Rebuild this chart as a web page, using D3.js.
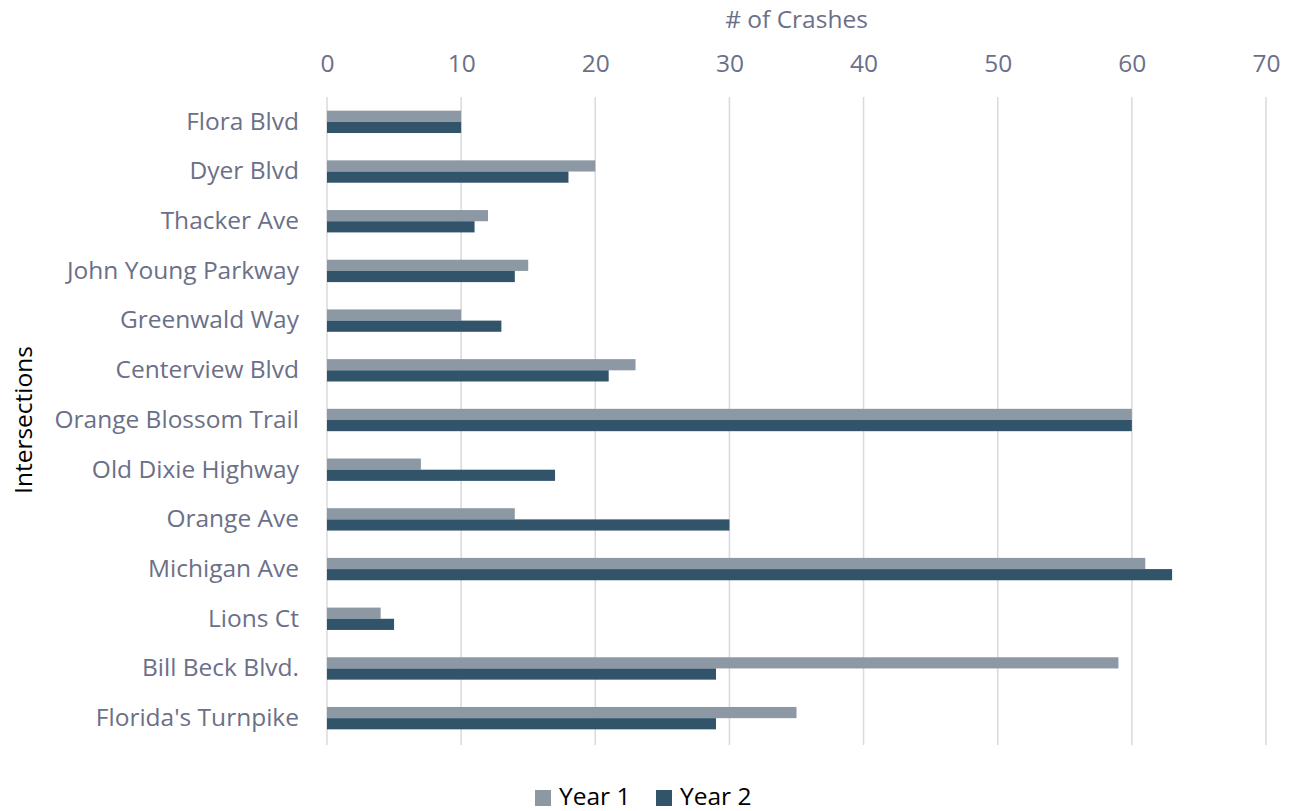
<!DOCTYPE html>
<html>
<head>
<meta charset="utf-8">
<script src="https://cdn.jsdelivr.net/npm/d3@7"></script>
<style>
  body { margin: 0; background: #fff; }
  text { font-family: "Open Sans", Lato, sans-serif; }
</style>
</head>
<body>
<div class="container"></div>
<script>
const intersections = [
  "Flora Blvd", "Dyer Blvd", "Thacker Ave", "John Young Parkway", "Greenwald Way",
  "Centerview Blvd", "Orange Blossom Trail", "Old Dixie Highway", "Orange Ave",
  "Michigan Ave", "Lions Ct", "Bill Beck Blvd.", "Florida's Turnpike"
];
const year1 = [10, 20, 12, 15, 10, 23, 60, 7, 14, 61, 4, 59, 35];
const year2 = [10, 18, 11, 14, 13, 21, 60, 17, 30, 63, 5, 29, 29];
const seriesNames = ["Year 1", "Year 2"];
const xTicks = [0, 10, 20, 30, 40, 50, 60, 70];

const w = 1292;
const h = 811;
const plotLeft = 327, plotRight = 1266, plotTop = 97, plotBottom = 743;
const colors = ["#8c99a4", "#32546b"];
const labelColor = "#6b7088";
const fs = 24.5;

const svg = d3.select(".container")
  .append("svg")
  .attr("width", w)
  .attr("height", h);

const xScale = d3.scaleLinear().domain([0, 70]).range([plotLeft, plotRight]);
const yScale = d3.scaleBand().domain(intersections).range([plotTop, plotBottom]).paddingInner(0.55).paddingOuter(0.275);
const sub = d3.scaleBand().domain(seriesNames).range([0, yScale.bandwidth()]);

// gridlines
svg.append("g")
  .selectAll("line")
  .data(xTicks)
  .enter()
  .append("line")
  .attr("x1", d => xScale(d))
  .attr("x2", d => xScale(d))
  .attr("y1", plotTop)
  .attr("y2", plotBottom + 2)
  .attr("stroke", "#d9d9df")
  .attr("stroke-width", 1.5);

// top axis
const xAxis = d3.axisTop(xScale).tickValues(xTicks).tickSize(0).tickPadding(0);
const gx = svg.append("g")
  .attr("transform", "translate(0,72)")
  .call(xAxis);
gx.select(".domain").remove();
gx.selectAll("text").attr("font-size", fs).attr("fill", labelColor);

// left axis
const yAxis = d3.axisLeft(yScale).tickSize(0).tickPadding(28);
const gy = svg.append("g")
  .attr("transform", `translate(${plotLeft},0)`)
  .call(yAxis);
gy.select(".domain").remove();
gy.selectAll("text").attr("font-size", fs).attr("fill", labelColor);

// bars
const rows = intersections.map((name, i) => ({ name, vals: [year1[i], year2[i]] }));
const groups = svg.selectAll(".row")
  .data(rows)
  .enter()
  .append("g")
  .attr("class", "row")
  .attr("transform", d => `translate(0,${yScale(d.name)})`);

groups.selectAll("rect")
  .data(d => d.vals.map((v, k) => ({ v, s: seriesNames[k], k })))
  .enter()
  .append("rect")
  .attr("x", xScale(0))
  .attr("y", d => sub(d.s))
  .attr("width", d => xScale(d.v) - xScale(0))
  .attr("height", sub.bandwidth())
  .attr("fill", d => colors[d.k]);

// axis titles
svg.append("text")
  .attr("x", (plotLeft + plotRight) / 2)
  .attr("y", 28)
  .attr("text-anchor", "middle")
  .attr("font-size", fs)
  .attr("fill", labelColor)
  .text("# of Crashes");

svg.append("text")
  .attr("transform", `translate(32,${(plotTop + plotBottom) / 2}) rotate(-90)`)
  .attr("text-anchor", "middle")
  .attr("font-size", fs)
  .attr("fill", "#000")
  .text("Intersections");

// legend
const legend = svg.append("g").attr("transform", "translate(535,788)");
const legX = [0, 121];
seriesNames.forEach((s, i) => {
  legend.append("rect")
    .attr("x", legX[i])
    .attr("y", 2)
    .attr("width", 16)
    .attr("height", 16)
    .attr("fill", colors[i]);
  legend.append("text")
    .attr("x", legX[i] + 24)
    .attr("y", 17)
    .attr("font-size", fs)
    .attr("fill", "#000")
    .text(s);
});
</script>
</body>
</html>
